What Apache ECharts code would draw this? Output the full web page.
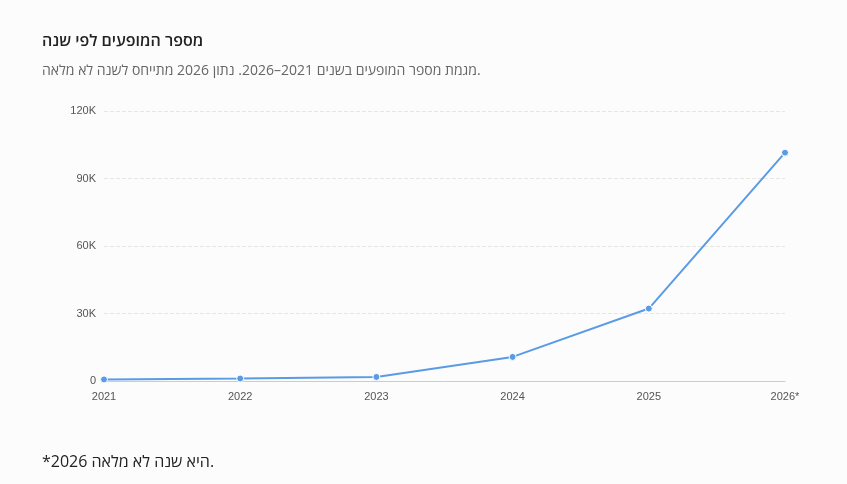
<!DOCTYPE html>
<html><head><meta charset="utf-8">
<script src="https://cdn.jsdelivr.net/npm/echarts@6/dist/echarts.min.js"></script>
<style>
body{margin:0;background:#fcfcfc;font-family:"Open Sans","Noto Sans",sans-serif;width:847px;height:484px;position:relative;overflow:hidden}
.t{position:absolute;left:42px;direction:ltr;text-align:left;white-space:nowrap}
#title{top:29px;font-size:16px;font-weight:600;color:#222}
#sub{top:60px;font-size:14px;color:#666}
#note{top:450px;font-size:16px;color:#222}
#chart{position:absolute;left:0;top:0;width:847px;height:484px}
</style></head><body>
<div id="chart"></div>
<div class="t" id="title">מספר המופעים לפי שנה</div>
<div class="t" id="sub">מגמת מספר המופעים בשנים 2021–2026. נתון 2026 מתייחס לשנה לא מלאה.</div>
<div class="t" id="note">*2026 היא שנה לא מלאה.</div>
<script>
var years = ['2021','2022','2023','2024','2025','2026*'];
var counts = [700, 1100, 1800, 10700, 32200, 101500];

var myChart = echarts.init(document.getElementById('chart'));
var option = {
	grid: {left: 104, right: 62, top: 111, bottom: 103},
	xAxis: {
		type: 'category',
		boundaryGap: false,
		data: years,
		axisLine: {lineStyle: {color: '#ccc'}},
		axisTick: {show: false},
		axisLabel: {color: '#555', fontSize: 11, margin: 10}
	},
	yAxis: {
		type: 'value',
		min: 0, max: 120000, interval: 30000,
		axisLabel: {color: '#555', fontSize: 11, formatter: function (v) { return v === 0 ? '0' : (v / 1000) + 'K'; }},
		splitLine: {lineStyle: {color: '#e6e6e6', type: 'dashed'}}
	},
	series: [{
		type: 'line',
		data: counts,
		symbol: 'circle',
		symbolSize: 7,
		itemStyle: {color: '#5a9be6', borderColor: '#fff', borderWidth: 1},
		lineStyle: {color: '#5a9be6', width: 2}
	}]
};
myChart.setOption(option);
</script>
</body></html>
